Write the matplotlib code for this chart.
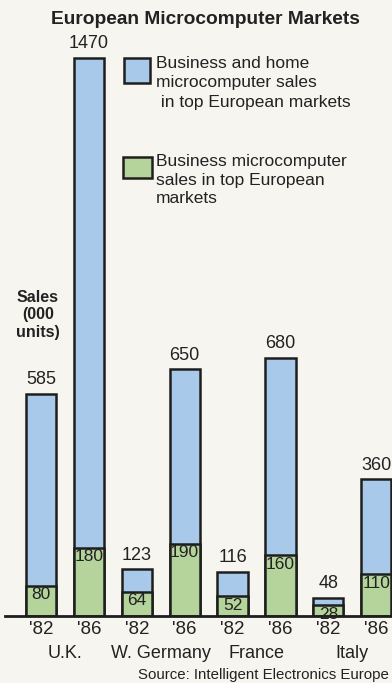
import matplotlib
matplotlib.use("Agg")
import matplotlib.pyplot as plt
from matplotlib.patches import Rectangle

plt.rcParams['font.family'] = ['Liberation Sans', 'DejaVu Sans']

countries = ["U.K.", "W. Germany", "France", "Italy"]
years = ["'82", "'86"]
total_sales = [585, 1470, 123, 650, 116, 680, 48, 360]
business_sales = [80, 180, 64, 190, 52, 160, 28, 110]

blue = "#a8c9ea"
green = "#b4d49c"
edge = "#1e1e1e"
ink = "#222222"
paper = "#f7f5f0"

fig = plt.figure(figsize=(3.92, 6.83), dpi=100, facecolor=paper)
W, H = 392, 683

# axis baseline sits 616 px from the top, 1470 reaches 58 px
ax = fig.add_axes([0, (H - 616) / H, 1, 616 / H])
ax.set_facecolor(paper)
ax.set_xlim(-0.856, 7.33)
ax.set_ylim(0, 616 / (558 / 1470))
ax.axis("off")

xs = list(range(len(total_sales)))
ax.bar(xs, total_sales, width=0.63, color=blue, edgecolor=edge, linewidth=1.8, zorder=2)
ax.bar(xs, business_sales, width=0.63, color=green, edgecolor=edge, linewidth=1.8, zorder=3)
ax.plot([-0.75, 7.4], [0, 0], color=edge, linewidth=2, zorder=4, clip_on=False)

for x, t, b in zip(xs, total_sales, business_sales):
    ax.annotate(str(t), (x, t), xytext=(0, 4), textcoords="offset points",
                ha="center", va="bottom", fontsize=13, color=ink)
    ax.annotate(str(b), (x, b), xytext=(0, -1), textcoords="offset points",
                ha="center", va="top", fontsize=12.5, color=ink, zorder=5)

# year and country labels under the baseline
for x in xs:
    fig.text((41 + 47.9 * x) / W, 1 - 629 / H, years[x % 2], ha="center", va="center",
             fontsize=13.5, color=ink)
for i, c in enumerate(countries):
    cx = (41 + 47.9 * (2 * i + 0.5)) / W
    fig.text(cx, 1 - 653 / H, c, ha="center", va="center", fontsize=13, color=ink)

fig.text(0.525, 1 - 20 / H, "European Microcomputer Markets", ha="center", va="center",
         fontsize=13.8, fontweight="bold", color=ink)
fig.text(38 / W, 1 - 315 / H, "Sales\n(000\nunits)", ha="center", va="center",
         fontsize=11.5, fontweight="bold", color=ink, linespacing=1.22)
fig.text(389 / W, 1 - 675 / H, "Source: Intelligent Electronics Europe", ha="right",
         va="center", fontsize=10.8, color=ink)

# legend swatches
fig.patches.append(Rectangle((124 / W, 1 - 83 / H), 26 / W, 25 / H, transform=fig.transFigure,
                             facecolor=blue, edgecolor=edge, linewidth=1.8))
fig.patches.append(Rectangle((123 / W, 1 - 178 / H), 29 / W, 21 / H, transform=fig.transFigure,
                             facecolor=green, edgecolor=edge, linewidth=1.8))
fig.text(156 / W, 1 - 83 / H, "Business and home\nmicrocomputer sales\n in top European markets",
         ha="left", va="center", fontsize=12.5, color=ink, linespacing=1.38, zorder=6)
fig.text(156 / W, 1 - 180 / H, "Business microcomputer\nsales in top European\nmarkets",
         ha="left", va="center", fontsize=12.5, color=ink, linespacing=1.32)

fig.savefig("out.png", dpi=100, facecolor=paper)
